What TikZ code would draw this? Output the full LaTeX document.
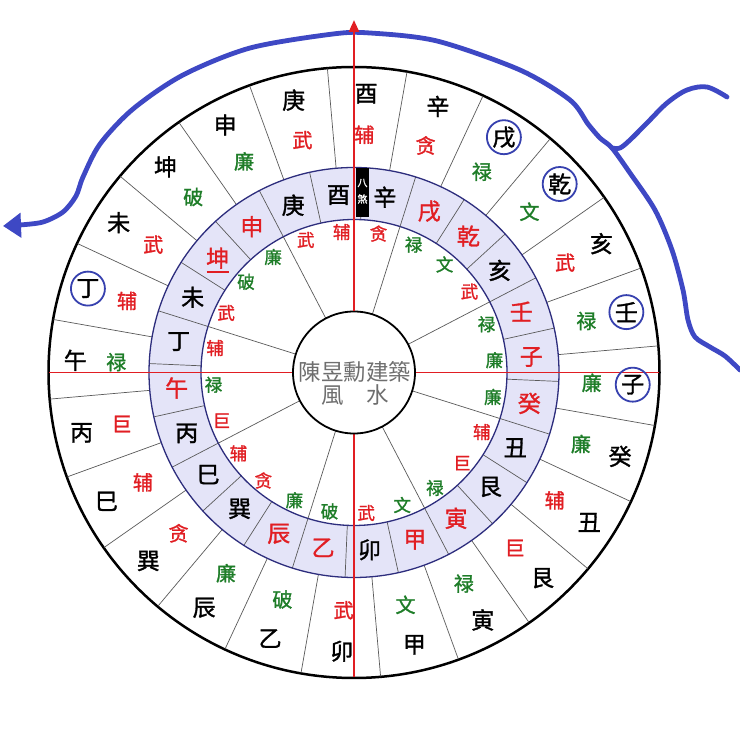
\documentclass[tikz,border=0pt]{standalone}
\usepackage{fontspec}
\setmainfont{Noto Sans CJK SC}[FakeBold=1.3]
\newfontfamily\ctrfont{Noto Sans CJK TC}
\usetikzlibrary{arrows.meta}
\definecolor{cR}{RGB}{225,30,35}
\definecolor{cG}{RGB}{30,125,40}
\definecolor{cK}{RGB}{0,0,0}
\definecolor{bandfill}{RGB}{228,228,248}
\definecolor{bandline}{RGB}{45,45,125}
\definecolor{curveblue}{RGB}{62,72,196}
\definecolor{ringblue}{RGB}{55,65,175}
\definecolor{ctrgray}{RGB}{110,110,110}
\definecolor{secgray}{RGB}{90,90,90}
\begin{document}
\begin{tikzpicture}[x=1pt,y=1pt,
  mtn/.style={font=\fontsize{23}{23}\selectfont, inner sep=0pt},
  starout/.style={font=\fontsize{20}{20}\selectfont, inner sep=0pt},
  bandtxt/.style={font=\fontsize{23}{23}\selectfont, inner sep=0pt},
  starin/.style={font=\fontsize{17.5}{17.5}\selectfont, inner sep=0pt},
  sector/.style={draw=secgray, line width=0.7pt},
  ringmark/.style={draw=ringblue, line width=1.8pt},
  curvepath/.style={draw=curveblue, line width=4.8pt, line cap=round, line join=round},
  redline/.style={draw=cR},
  ctrtxt/.style={font=\ctrfont\fontsize{22.5}{22.5}\selectfont, text=ctrgray, inner sep=0pt}]
\useasboundingbox (0,0) rectangle (740,734);
\coordinate (O) at (354,361.5);

% outer disc
\draw[line width=2.5pt, fill=white] (O) circle (305.5);
\foreach \t in {10,25,...,355}
  \draw[sector] ([shift={({90-\t}:205)}]O) -- ([shift={({90-\t}:305)}]O);

% band
\fill[bandfill, even odd rule] (O) circle (205) (O) circle (153);
\foreach \t in {2.5,17.5,...,358}
  \draw[sector] ([shift={({90-\t}:153)}]O) -- ([shift={({90-\t}:205)}]O);
\draw[draw=bandline, line width=1.3pt] (O) circle (205) (O) circle (153);

% inner lines
\foreach \t in {17.5,62.5,...,333}
  \draw[sector] ([shift={({90-\t}:61)}]O) -- ([shift={({90-\t}:153)}]O);

% red cross lines
\draw[redline, line width=1.1pt] ([shift={(180:305)}]O) -- ([shift={(0:305)}]O);
\draw[redline, line width=2.5pt] ([shift={(270:305)}]O) -- (O);

% center circle
\draw[line width=1.8pt, fill=white] (O) circle (61);
\node[ctrtxt] (c1) at (355,362.5) {陳昱勳建築};
\node[ctrtxt] (c2) at (355,339) {風　水};

% black box
\fill[black] (356,517) rectangle (369,566);
\node[text=white, font=\fontsize{10}{10}\selectfont, inner sep=0pt] (bs1) at (362.5,551) {八};
\node[text=white, font=\fontsize{10}{10}\selectfont, inner sep=0pt] (bs2) at (362.5,535) {煞};

% outer ring texts
\foreach \t/\m/\s/\c [count=\i] in {2.5/酉/辅/cR, 17.5/辛/贪/cR, 32.5/戌/禄/cG, 47.5/乾/文/cG, 62.5/亥/武/cR, 77.5/壬/禄/cG, 92.5/子/廉/cG, 107.5/癸/廉/cG, 122.5/丑/辅/cR, 137.5/艮/巨/cR, 152.5/寅/禄/cG, 167.5/甲/文/cG, 182.5/卯/武/cR, 197.5/乙/破/cG, 212.5/辰/廉/cG, 227.5/巽/贪/cR, 242.5/巳/辅/cR, 257.5/丙/巨/cR, 272.5/午/禄/cG, 287.5/丁/辅/cR, 302.5/未/武/cR, 317.5/坤/破/cG, 332.5/申/廉/cG, 347.5/庚/武/cR}{
  \node[mtn] (om\i) at ([shift={({90-\t}:279)}]O) {\m};
  \node[starout, text=\c] (os\i) at ([shift={({90-\t}:238)}]O) {\s};
}
\foreach \t in {32.5,47.5,77.5,92.5,287.5}
  \draw[ringmark] ([shift={({90-\t}:279)}]O) circle (17);

% band texts and inner stars
\foreach \t/\b/\bc/\s/\sc [count=\i] in {10/辛/cK/贪/cR, 25/戌/cR/禄/cG, 40/乾/cR/文/cG, 55/亥/cK/武/cR, 70/壬/cR/禄/cG, 85/子/cR/廉/cG, 100/癸/cR/廉/cG, 115/丑/cK/辅/cR, 130/艮/cK/巨/cR, 145/寅/cR/禄/cG, 160/甲/cR/文/cG, 175/卯/cK/武/cR, 190/乙/cR/破/cG, 205/辰/cR/廉/cG, 220/巽/cK/贪/cR, 235/巳/cK/辅/cR, 250/丙/cK/巨/cR, 265/午/cR/禄/cG, 280/丁/cK/辅/cR, 295/未/cK/武/cR, 310/坤/cR/破/cG, 325/申/cR/廉/cG, 340/庚/cK/武/cR, 355/酉/cK/辅/cR}{
  \node[bandtxt, text=\bc] (b\i) at ([shift={({90-\t}:178)}]O) {\b};
  \node[starin, text=\sc] (is\i) at ([shift={({90-\t}:141)}]O) {\s};
}
\draw[cR, line width=1.2pt] ([shift={(-11,-14)}]b21.center) -- ([shift={(11,-14)}]b21.center);

% blue hand-drawn curve
\draw[curvepath, -{Triangle[length=18pt,width=24pt]}] plot[smooth, tension=0.5] coordinates {
  (740,364) (725,378) (710,387) (695,397) (688,414) (683,444) (672,484) (655,524) (630,561)
  (612,586) (600,596) (588,610) (570,634) (520,664) (437,693) (370,701) (333,700)
  (250,686) (183,659) (133,625) (100,590) (83,557) (76,538) (63,522) (43,512) (20,509) (3,508)};
\draw[curvepath] plot[smooth, tension=0.55] coordinates {
  (612,586) (620,586) (630,594) (647,611) (667,631) (687,644) (707,647) (727,637)};

% red top arrow
\draw[redline, line width=2.5pt, -{Triangle[length=12pt,width=10pt]}] ([shift={(90:61)}]O) -- ([shift={(90:352.5)}]O);
\end{tikzpicture}
\end{document}
